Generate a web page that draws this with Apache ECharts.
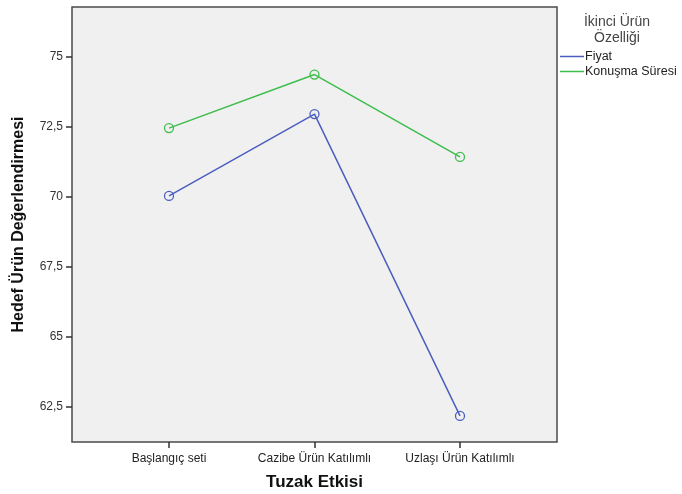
<!DOCTYPE html>
<html>
<head>
<meta charset="utf-8">
<script src="https://cdn.jsdelivr.net/npm/echarts@6/dist/echarts.min.js"></script>
<style>
  html, body { margin: 0; padding: 0; background: #fff; }
  #chart { width: 682px; height: 494px; }
</style>
</head>
<body>
<div id="chart"></div>
<script>
// Categories of the decoy effect (x axis)
const categories = ['Başlangıç seti', 'Cazibe Ürün Katılımlı', 'Uzlaşı Ürün Katılımlı'];
// Mean target product ratings per second product feature
const fiyat = [70.02, 72.94, 62.17];
const konusmaSuresi = [72.44, 74.35, 71.41];
// Y axis tick values
const yTicks = [62.5, 65, 67.5, 70, 72.5, 75];

const FONT = '"Liberation Sans", Arial, sans-serif';
const BLUE = '#4b5ec0';
const GREEN = '#3dbd4b';

function toPoints(values) {
  return values.map((v, i) => [i, v]);
}

function lineSeries(name, values, color) {
  return {
    name: name,
    type: 'line',
    data: toPoints(values),
    color: color,
    lineStyle: { width: 1.5, color: color },
    symbol: 'circle',
    symbolSize: 9,
    itemStyle: { color: 'rgba(0,0,0,0)', borderColor: color, borderWidth: 1.3 }
  };
}

const chart = echarts.init(document.getElementById('chart'), null, { renderer: 'canvas' });

chart.setOption({
  animation: false,
  backgroundColor: '#ffffff',
  grid: {
    left: 72, top: 7, right: 125, bottom: 52,
    outerBoundsMode: 'none',
    containLabel: false,
    show: true,
    backgroundColor: '#f0f0f0',
    borderColor: '#4a4a4a',
    borderWidth: 1.5
  },
  graphic: [{
    type: 'text',
    x: 617,
    y: 14,
    style: {
      text: 'İkinci Ürün\nÖzelliği',
      font: '14px ' + FONT,
      fill: '#444',
      align: 'center',
      lineHeight: 16
    }
  }],
  legend: {
    orient: 'vertical',
    left: 560,
    top: 49,
    padding: 0,
    itemWidth: 24,
    itemHeight: 1.5,
    itemGap: 0,
    icon: 'rect',
    textStyle: { fontFamily: FONT, fontSize: 12.5, color: '#222', lineHeight: 15, padding: [0, 0, 0, -4] },
    data: [
      { name: 'Fiyat', itemStyle: { color: BLUE, borderWidth: 0 } },
      { name: 'Konuşma Süresi', itemStyle: { color: GREEN, borderWidth: 0 } }
    ]
  },
  xAxis: {
    type: 'value',
    min: -2 / 3,
    max: 8 / 3,
    name: 'Tuzak Etkisi',
    nameLocation: 'middle',
    nameGap: 32,
    nameTextStyle: { fontFamily: FONT, fontSize: 17, fontWeight: 'bold', color: '#111' },
    axisLine: { show: false, onZero: false },
    splitLine: { show: false },
    axisTick: { show: true, customValues: [0, 1, 2], length: 6, lineStyle: { color: '#333', width: 1.5 } },
    axisLabel: {
      customValues: [0, 1, 2],
      formatter: v => categories[Math.round(v)],
      fontFamily: FONT, fontSize: 12, color: '#222', margin: 11
    }
  },
  yAxis: {
    type: 'value',
    min: 61.24,
    max: 76.76,
    name: 'Hedef Ürün Değerlendirmesi',
    nameLocation: 'middle',
    nameGap: 45,
    nameTextStyle: { fontFamily: FONT, fontSize: 16, fontWeight: 'bold', color: '#111' },
    axisLine: { show: false, onZero: false },
    splitLine: { show: false },
    axisTick: { show: true, customValues: yTicks, length: 6, lineStyle: { color: '#333', width: 1.5 } },
    axisLabel: {
      customValues: yTicks,
      formatter: v => String(v).replace('.', ','),
      fontFamily: FONT, fontSize: 12, color: '#333', margin: 9
    }
  },
  series: [
    lineSeries('Fiyat', fiyat, BLUE),
    lineSeries('Konuşma Süresi', konusmaSuresi, GREEN)
  ]
});
</script>
</body>
</html>
